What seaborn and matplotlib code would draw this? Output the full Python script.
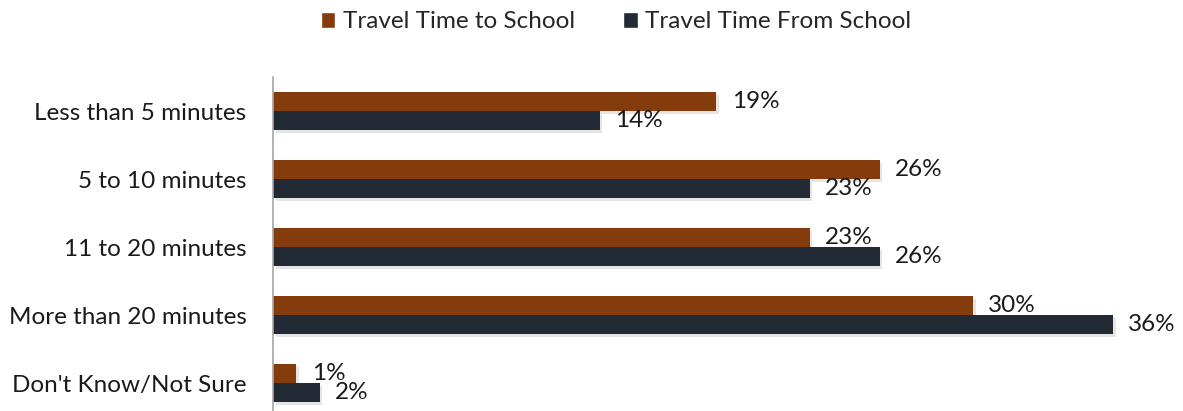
import pandas as pd
import matplotlib.pyplot as plt
import matplotlib.patheffects as pe
import seaborn as sns

categories = ['Less than 5 minutes', '5 to 10 minutes', '11 to 20 minutes',
              'More than 20 minutes', "Don't Know/Not Sure"]
to_school = [19, 26, 23, 30, 1]
from_school = [14, 23, 26, 36, 2]
series = ['Travel Time to School', 'Travel Time From School']
colors = ['#843C0C', '#222A35']

df = pd.DataFrame({
    'Category': categories * 2,
    'Percent': to_school + from_school,
    'Series': [series[0]] * len(categories) + [series[1]] * len(categories),
})

sns.set_style('white')
plt.rcParams['font.family'] = ['Lato', 'DejaVu Sans']
fs = 17.5

fig = plt.figure(figsize=(11.83, 4.11), dpi=100)
ax = fig.add_axes([273 / 1183, 0, 910 / 1183, 334 / 411])

sns.barplot(data=df, y='Category', x='Percent', hue='Series', orient='h',
            palette=colors, width=0.56, gap=0, saturation=1, ax=ax)

# soft drop shadow like the original office chart
shadow = [pe.SimplePatchShadow(offset=(2, -2), shadow_rgbFace='#aaaaaa', alpha=0.3),
          pe.Normal()]
for container in ax.containers:
    for bar in container:
        bar.set_path_effects(shadow)
        bar.set_linewidth(0)
    ax.bar_label(container, fmt='%d%%', padding=11, fontsize=fs, color='#1a1a1a')

ax.set_xlim(0, 39)
ax.set_ylim(-0.5 + 334 / 68, -0.5)
ax.set_xlabel('')
ax.set_ylabel('')
ax.set_xticks([])
ax.tick_params(axis='y', length=0, pad=19, labelsize=fs, labelcolor='#1a1a1a')
for side in ['top', 'right', 'bottom']:
    ax.spines[side].set_visible(False)
ax.spines['left'].set_color('#a6a6a6')
ax.spines['left'].set_linewidth(1.2)

ax.legend_.remove()
handles, labels = ax.get_legend_handles_labels()
fig.legend(handles, labels, loc='center', bbox_to_anchor=(616 / 1183, 1 - 22 / 411),
           ncol=2, frameon=False, fontsize=fs, handlelength=0.6, handleheight=0.6,
           handletextpad=0.3, columnspacing=2.0)

fig.savefig('out.png', dpi=100)
plt.close()
